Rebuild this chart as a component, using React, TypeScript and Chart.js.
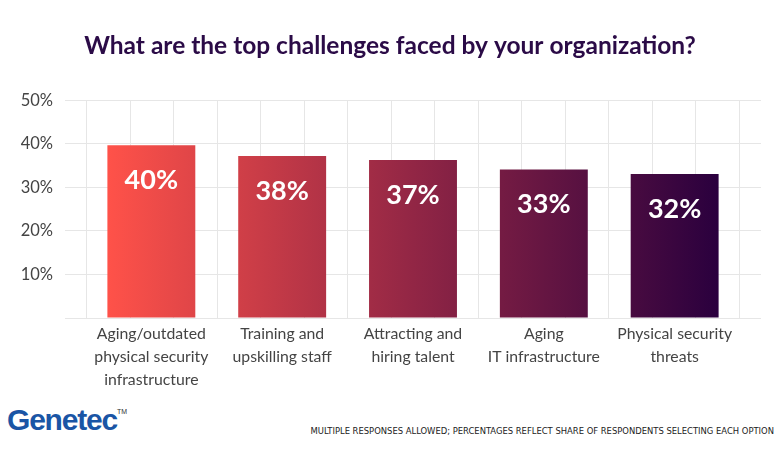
import React, { useEffect, useRef } from "react";
import { Chart, registerables } from "chart.js";

Chart.register(...registerables);

// Data
const categories: string[][] = [
  ["Aging/outdated", "physical security", "infrastructure"],
  ["Training and", "upskilling staff"],
  ["Attracting and", "hiring talent"],
  ["Aging", "IT infrastructure"],
  ["Physical security", "threats"],
];
const barHeights = [39.7, 37.2, 36.3, 34.1, 33.1];
const valueLabels = ["40%", "38%", "37%", "33%", "32%"];
const yTicks = [0, 10, 20, 30, 40, 50];

const FONT = "Lato, 'Open Sans', sans-serif";

const barLabels = {
  id: "barLabels",
  afterDatasetsDraw(chart: Chart) {
    const ctx = chart.ctx;
    const meta = chart.getDatasetMeta(0);
    ctx.save();
    ctx.fillStyle = "#ffffff";
    ctx.font = `bold 27px ${FONT}`;
    ctx.textAlign = "center";
    ctx.textBaseline = "middle";
    meta.data.forEach((el: any, i: number) => {
      ctx.fillText(valueLabels[i], el.x, el.y + 35);
    });
    ctx.restore();
  },
};

const ChallengesChart: React.FC = () => {
  const canvasRef = useRef<HTMLCanvasElement | null>(null);
  const chartRef = useRef<Chart | null>(null);

  useEffect(() => {
    const ctx = canvasRef.current?.getContext("2d");
    if (!ctx) return;
    if (chartRef.current) chartRef.current.destroy();

    chartRef.current = new Chart(ctx, {
      type: "bar",
      data: {
        datasets: [
          {
            data: barHeights.map((v, i) => ({ x: i, y: v })),
            backgroundColor: (c: any) => {
              const area = c.chart.chartArea;
              if (!area) return "#a02a46";
              const g = c.chart.ctx.createLinearGradient(area.left + 42, 0, area.right - 42, 0);
              g.addColorStop(0, "#ff5249");
              g.addColorStop(0.5, "#922645");
              g.addColorStop(1, "#2a003e");
              return g;
            },
            borderWidth: 0,
            categoryPercentage: 1,
            barPercentage: 0.672,
          },
        ],
      },
      options: {
        animation: false,
        responsive: false,
        layout: { padding: { top: 0, right: 19, bottom: 0, left: 19 } },
        plugins: {
          legend: { display: false },
          tooltip: { enabled: false },
          title: {
            display: true,
            text: "What are the top challenges faced by your organization?",
            color: "#2b0b47",
            font: { family: FONT, size: 24.5, weight: "bold" },
            padding: { top: 31, bottom: 40 },
          },
        },
        scales: {
          x: {
            type: "linear",
            offset: false,
            min: -0.66,
            max: 4.66,
            afterBuildTicks: (axis: any) => {
              axis.ticks = categories.map((_, i) => ({ value: i }));
            },
            afterFit: (axis: any) => {
              axis.height = 82;
            },
            grid: { display: false, drawTicks: false },
            border: { display: false },
            ticks: {
              autoSkip: false,
              maxRotation: 0,
              padding: 4,
              color: "#444444",
              font: { family: FONT, size: 15.8, lineHeight: 1.46 },
              callback: (v: any) => categories[v as number] ?? "",
            },
          },
          xg: {
            type: "linear",
            axis: "x",
            position: "top",
            offset: false,
            min: 0,
            max: 16,
            ticks: { display: false, stepSize: 1 },
            grid: { color: "#e6e6e6", lineWidth: 1, drawTicks: false },
            border: { display: false },
          },
          y: {
            min: 0,
            max: 50,
            afterBuildTicks: (axis: any) => {
              axis.ticks = yTicks.map((v) => ({ value: v }));
            },
            afterFit: (axis: any) => {
              axis.width = 46;
            },
            grid: { color: "#e6e6e6", lineWidth: 1, drawTicks: false },
            border: { display: false },
            ticks: {
              padding: 12,
              color: "#444444",
              font: { family: FONT, size: 16.5 },
              callback: (v: any) => (v === 0 ? "" : `${v}%`),
            },
          },
        },
      },
      plugins: [barLabels],
    } as any);

    return () => {
      if (chartRef.current) chartRef.current.destroy();
    };
  }, []);

  return (
    <div style={{ position: "absolute", left: 0, top: 0, width: 780, height: 470, background: "#fff" }}>
      <canvas ref={canvasRef} width={780} height={400} style={{ position: "absolute", left: 0, top: 0 }} />
      <div
        style={{
          position: "absolute",
          left: 7,
          top: 403,
          fontFamily: "'Liberation Sans', Arial, sans-serif",
          fontWeight: 900,
          fontSize: 30,
          letterSpacing: -1.2,
          color: "#1a55a5",
        }}
      >
        Genetec
        <sup style={{ fontSize: 7, fontWeight: 400, letterSpacing: 0, color: "#333", verticalAlign: 16 }}>TM</sup>
      </div>
      <div
        style={{
          position: "absolute",
          right: 6,
          top: 425,
          fontFamily: "'DejaVu Sans Condensed', 'Liberation Sans Narrow', sans-serif",
          fontSize: 9.35,
          color: "#222",
          whiteSpace: "nowrap",
        }}
      >
        MULTIPLE RESPONSES ALLOWED; PERCENTAGES REFLECT SHARE OF RESPONDENTS SELECTING EACH OPTION
      </div>
    </div>
  );
};

export default function App() {
  return <ChallengesChart />;
}
